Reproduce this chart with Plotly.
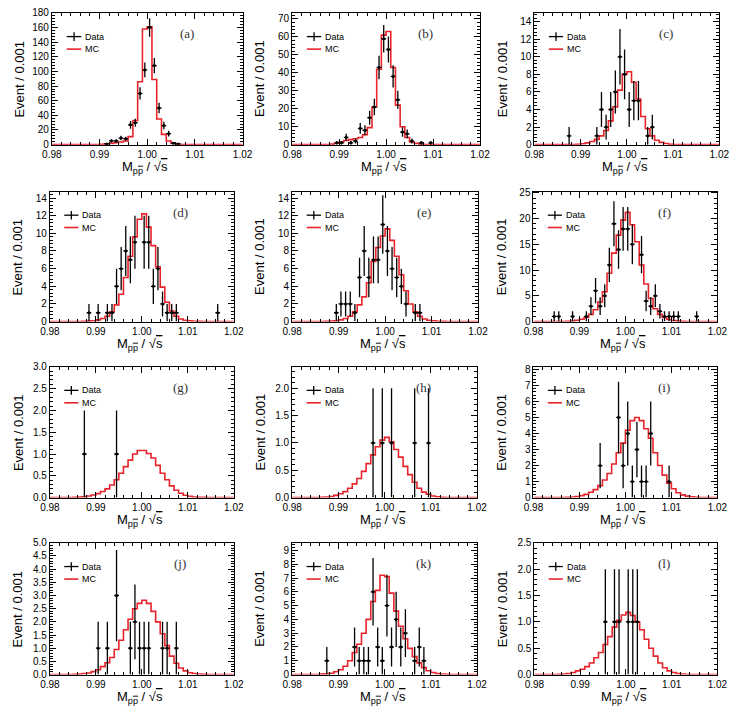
import numpy as np
import plotly.graph_objects as go

# ---------------- data ----------------
BIN_EDGES = np.round(np.arange(0.98, 1.0201, 0.001), 4)   # 40 bins of 0.001
X_TICKS = [0.98, 0.99, 1.00, 1.01, 1.02]
X_TICKTEXT = ["0.98", "0.99", "1.00", "1.01", "1.02"]
PANEL_LABELS = ["(a)", "(b)", "(c)", "(d)", "(e)", "(f)", "(g)", "(h)", "(i)", "(j)", "(k)", "(l)"]

MC_A = [0, 0, 0, 0, 0, 0, 0, 0, 0, 0.2, 0.5, 1, 1.5, 2.5, 3.5, 5, 11, 33, 86, 158,
        161, 89, 35, 14, 5, 1.5, 0.5, 0.2, 0, 0, 0, 0, 0, 0, 0, 0, 0, 0, 0, 0]
DATA_A_X = [0.9915, 0.9925, 0.9935, 0.9945, 0.9955, 0.9965, 0.9975, 0.9985, 0.9995, 1.0005,
            1.0015, 1.0025, 1.0035, 1.0045, 1.0055, 1.0065]
DATA_A_N = [1, 5, 5, 9, 8, 27, 30, 70, 102, 160, 108, 50, 26, 15, 2, 1]

MC_B = [0, 0, 0, 0, 0, 0, 0, 0, 0.3, 0.8, 1.5, 2.3, 2.8, 3.3, 4.0, 5.5, 9.5, 21, 42, 61,
        63, 43, 22, 10, 4, 1.5, 0.7, 0.3, 0.1, 0, 0, 0, 0, 0, 0, 0, 0, 0, 0, 0]
DATA_B_X = [0.9895, 0.9905, 0.9915, 0.9925, 0.9935, 0.9945, 0.9955, 0.9965, 0.9975, 0.9985,
            0.9995, 1.0005, 1.0015, 1.0025, 1.0035, 1.0045, 1.0055, 1.0075, 1.0095]
DATA_B_N = [1, 1, 4, 1, 2, 9, 8, 15, 21, 43, 59, 53, 38, 25, 7, 6, 2, 1, 1]

MC_C = [0, 0, 0, 0, 0, 0, 0, 0, 0.02, 0.05, 0.1, 0.2, 0.35, 0.6, 1.0, 1.6, 2.7, 4.3, 6.2, 8.0,
        8.3, 7.1, 5.2, 3.2, 1.8, 1.0, 0.5, 0.26, 0.12, 0.05, 0.02, 0, 0, 0, 0, 0, 0, 0, 0, 0]
DATA_C_X = [0.9875, 0.9935, 0.9945, 0.9955, 0.9965, 0.9975, 0.9985, 0.9995, 1.0005, 1.0015,
            1.0025, 1.0045, 1.0055]
DATA_C_N = [1, 1, 4, 2, 4, 6, 10, 8, 4, 5, 5, 1, 2]

MC_D = [0, 0, 0, 0, 0, 0, 0, 0.02, 0.05, 0.1, 0.2, 0.35, 0.6, 1.1, 1.9, 3.1, 5.0, 7.4, 9.6, 11.6,
        12.2, 10.7, 8.6, 6.2, 3.9, 2.2, 1.2, 0.6, 0.3, 0.15, 0.08, 0.04, 0.02, 0, 0, 0, 0, 0, 0, 0]
DATA_D_X = [0.9885, 0.9905, 0.9925, 0.9935, 0.9945, 0.9955, 0.9965, 0.9975, 0.9985, 1.0005,
            1.0015, 1.0025, 1.0035, 1.0045, 1.0055, 1.0065, 1.0075, 1.0165]
DATA_D_N = [1, 1, 1, 1, 4, 6, 8, 7, 9, 9, 9, 4, 6, 2, 1, 1, 1, 1]

MC_E = [0, 0, 0, 0, 0, 0, 0, 0.03, 0.05, 0.1, 0.2, 0.35, 0.6, 1.1, 1.9, 2.8, 4.4, 6.8, 8.4, 9.7,
        10.5, 9.2, 7.4, 5.3, 3.5, 2.0, 1.1, 0.6, 0.3, 0.15, 0.08, 0.04, 0.02, 0, 0, 0, 0, 0, 0, 0]
DATA_E_X = [0.9895, 0.9905, 0.9915, 0.9925, 0.9935, 0.9945, 0.9955, 0.9965, 0.9975, 0.9985,
            0.9995, 1.0005, 1.0015, 1.0025, 1.0035, 1.0045, 1.0065, 1.0075]
DATA_E_N = [1, 2, 2, 2, 1, 5, 8, 5, 7, 7, 11, 8, 6, 5, 4, 2, 1, 1]

MC_F = [0, 0, 0, 0, 0.01, 0.02, 0.03, 0.06, 0.12, 0.25, 0.45, 0.8, 1.4, 2.3, 3.8, 5.8, 9.4, 13.3, 16.8, 19.7,
        21.2, 18.8, 15.5, 11.0, 7.3, 4.5, 2.5, 1.4, 0.8, 0.4, 0.2, 0.1, 0.05, 0.02, 0, 0, 0, 0, 0, 0]
DATA_F_X = [0.9845, 0.9855, 0.9885, 0.9915, 0.9925, 0.9935, 0.9945, 0.9955, 0.9965, 0.9975,
            0.9985, 0.9995, 1.0005, 1.0015, 1.0035, 1.0045, 1.0055, 1.0065, 1.0075, 1.0085,
            1.0095, 1.0105, 1.0115, 1.0155]
DATA_F_N = [1, 1, 1, 1, 3, 6, 3, 5, 11, 19, 14, 18, 18, 15, 13, 4, 3, 5, 2, 1, 1, 1, 1, 1]

MC_G = [0, 0, 0, 0, 0.003, 0.005, 0.01, 0.02, 0.035, 0.06, 0.09, 0.14, 0.2, 0.29, 0.41, 0.56, 0.71, 0.86, 1.0, 1.08,
        1.08, 1.01, 0.91, 0.74, 0.56, 0.41, 0.27, 0.17, 0.1, 0.055, 0.03, 0.015, 0.008, 0.004, 0, 0, 0, 0, 0, 0]
DATA_G_X = [0.9875, 0.9945]
DATA_G_N = [1, 1]

MC_H = [0, 0, 0, 0, 0, 0.003, 0.005, 0.01, 0.02, 0.04, 0.07, 0.11, 0.17, 0.25, 0.35, 0.48, 0.62, 0.78, 0.93, 1.05,
        1.1, 1.02, 0.88, 0.74, 0.57, 0.42, 0.28, 0.17, 0.1, 0.06, 0.03, 0.015, 0.007, 0.003, 0, 0, 0, 0, 0, 0]
DATA_H_X = [0.9975, 0.9995, 1.0015, 1.0065, 1.0095]
DATA_H_N = [1, 1, 1, 1, 1]

MC_I = [0, 0, 0, 0, 0, 0, 0.01, 0.02, 0.04, 0.07, 0.12, 0.2, 0.33, 0.5, 0.75, 1.1, 1.5, 2.1, 2.8, 3.4,
        4.2, 4.8, 5.0, 4.8, 4.3, 3.7, 2.8, 2.0, 1.4, 0.9, 0.55, 0.3, 0.17, 0.09, 0.05, 0.02, 0.01, 0, 0, 0]
DATA_I_X = [0.9945, 0.9985, 0.9995, 1.0005, 1.0015, 1.0025, 1.0035, 1.0045, 1.0055, 1.0095]
DATA_I_N = [2, 5, 2, 4, 1, 3, 1, 1, 4, 1]

MC_J = [0, 0, 0, 0, 0, 0.01, 0.02, 0.04, 0.06, 0.11, 0.18, 0.3, 0.45, 0.65, 0.95, 1.3, 1.7, 2.1, 2.5, 2.7,
        2.82, 2.7, 2.4, 2.0, 1.55, 1.1, 0.7, 0.43, 0.25, 0.14, 0.07, 0.04, 0.02, 0.01, 0, 0, 0, 0, 0, 0]
DATA_J_X = [0.9905, 0.9925, 0.9945, 0.9975, 0.9985, 0.9995, 1.0005, 1.0015, 1.0045, 1.0055, 1.0075]
DATA_J_N = [1, 1, 3, 1, 2, 1, 1, 1, 1, 1, 1]

MC_K = [0, 0, 0, 0, 0, 0.01, 0.03, 0.06, 0.1, 0.2, 0.35, 0.6, 1.0, 1.6, 2.2, 3.0, 4.0, 5.3, 6.1, 7.2,
        7.1, 5.9, 4.6, 3.5, 2.6, 1.9, 1.3, 0.85, 0.5, 0.28, 0.15, 0.08, 0.04, 0.02, 0, 0, 0, 0, 0, 0]
DATA_K_X = [0.9875, 0.9935, 0.9945, 0.9955, 0.9965, 0.9975, 0.9985, 0.9995, 1.0005, 1.0015,
            1.0025, 1.0035, 1.0045, 1.0065, 1.0075, 1.0085]
DATA_K_N = [1, 2, 1, 1, 1, 6, 2, 1, 5, 2, 4, 2, 3, 1, 2, 1]

MC_L = [0, 0, 0, 0, 0, 0.005, 0.01, 0.02, 0.04, 0.07, 0.1, 0.15, 0.22, 0.32, 0.42, 0.57, 0.72, 0.9, 1.03, 1.13,
        1.18, 1.12, 1.0, 0.85, 0.67, 0.5, 0.35, 0.22, 0.13, 0.07, 0.04, 0.02, 0.01, 0, 0, 0, 0, 0, 0, 0]
DATA_L_X = [0.9955, 0.9975, 0.9985, 1.0005, 1.0015, 1.0025]
DATA_L_N = [1, 1, 1, 1, 1, 1]

MC_ALL = [MC_A, MC_B, MC_C, MC_D, MC_E, MC_F, MC_G, MC_H, MC_I, MC_J, MC_K, MC_L]
DATA_X_ALL = [DATA_A_X, DATA_B_X, DATA_C_X, DATA_D_X, DATA_E_X, DATA_F_X,
              DATA_G_X, DATA_H_X, DATA_I_X, DATA_J_X, DATA_K_X, DATA_L_X]
DATA_N_ALL = [DATA_A_N, DATA_B_N, DATA_C_N, DATA_D_N, DATA_E_N, DATA_F_N,
              DATA_G_N, DATA_H_N, DATA_I_N, DATA_J_N, DATA_K_N, DATA_L_N]
Y_MAX = [180, 73.4, 15, 14.7, 14.7, 25.2, 3.0, 2.39, 8.16, 5.0, 9.55, 2.5]
Y_DTICK = [20, 10, 2, 2, 2, 5, 0.5, 0.5, 1, 0.5, 1, 0.5]
Y_FMT = [".0f", ".0f", ".0f", ".0f", ".0f", ".0f", ".1f", ".1f", ".0f", ".1f", ".0f", ".1f"]

# ---------------- layout geometry (pixels: left, right, top, bottom) ----------------
W, H = 741, 714
PANELS = [
    (43, 239, 7, 141), (290, 483, 7, 141), (539, 729, 7, 141),
    (41, 230, 189, 321), (290, 481, 189, 321), (538, 727, 189, 321),
    (41, 230, 367, 500), (290, 480, 367, 500), (538, 727, 367, 500),
    (41, 230, 546, 680), (290, 480, 546, 680), (539, 727, 546, 680),
]

RED = "#e8232a"
FONT = "Liberation Sans, Arial, sans-serif"
OVER = "<span style='text-decoration:overline'>{}</span>"
X_TITLE = "M<sub>p" + OVER.format("p") + "</sub> / √" + OVER.format("s")

fig = go.Figure()
annotations = []
shapes = []
layout = {}

x_steps = list(BIN_EDGES)
for i in range(12):
    n = i + 1
    xa = "x" if n == 1 else f"x{n}"
    ya = "y" if n == 1 else f"y{n}"
    l, r, t, b = PANELS[i]

    mc = MC_ALL[i]
    fig.add_trace(go.Scatter(
        x=x_steps, y=list(mc) + [mc[-1]], mode="lines", line_shape="hv",
        line=dict(color=RED, width=1.6), xaxis=xa, yaxis=ya, showlegend=False,
        hoverinfo="skip", cliponaxis=False))
    fig.add_trace(go.Scatter(
        x=DATA_X_ALL[i], y=DATA_N_ALL[i], mode="markers",
        marker=dict(color="black", size=3),
        error_y=dict(type="sqrt", color="black", thickness=1.3, width=0),
        error_x=dict(type="constant", value=0.0005, color="black", thickness=1.3, width=0),
        xaxis=xa, yaxis=ya, showlegend=False))

    axis_common = dict(
        showline=True, linecolor="black", linewidth=1, mirror="ticks",
        ticks="inside", ticklen=6, tickwidth=1, tickcolor="black",
        showgrid=False, zeroline=False, ticklabeloverflow="allow",
        tickfont=dict(family=FONT, size=10, color="black"),
    )
    layout["xaxis" if n == 1 else f"xaxis{n}"] = dict(
        axis_common, domain=[l / W, r / W], anchor=ya, range=[0.98, 1.02],
        tickmode="array", tickvals=X_TICKS, ticktext=X_TICKTEXT,
        minor=dict(ticks="inside", ticklen=3, dtick=0.002, tick0=0.98, tickcolor="black", showgrid=False),
    )
    layout["yaxis" if n == 1 else f"yaxis{n}"] = dict(
        axis_common, domain=[1 - b / H, 1 - t / H], anchor=xa, range=[0, Y_MAX[i]],
        tick0=0, dtick=Y_DTICK[i], tickformat=Y_FMT[i],
        minor=dict(ticks="inside", ticklen=3, dtick=Y_DTICK[i] / 5, tick0=0, tickcolor="black", showgrid=False),
    )

    xd, yd = f"{xa} domain", f"{ya} domain"
    annotations.append(dict(
        text=X_TITLE, xref=xd, yref=yd, x=0.5, y=0, xshift=-2, yshift=-23,
        xanchor="center", yanchor="middle", showarrow=False,
        font=dict(family=FONT, size=13, color="black")))
    annotations.append(dict(
        text="Event / 0.001", xref=xd, yref=yd, x=0, y=0.5, xshift=-32,
        xanchor="center", yanchor="middle", textangle=-90, showarrow=False,
        font=dict(family=FONT, size=13, color="black")))
    annotations.append(dict(
        text=PANEL_LABELS[i], xref=xd, yref=yd, x=0.71, y=0.84,
        xanchor="center", yanchor="middle", showarrow=False,
        font=dict(family="Liberation Serif, serif", size=13, color="#333333")))
    annotations.append(dict(
        text="Data", xref=xd, yref=yd, x=0.165, y=0.82, xanchor="left", yanchor="middle",
        showarrow=False, font=dict(family=FONT, size=9, color="black")))
    annotations.append(dict(
        text="MC", xref=xd, yref=yd, x=0.165, y=0.725, xanchor="left", yanchor="middle",
        showarrow=False, font=dict(family=FONT, size=9, color="black")))
    shapes.append(dict(type="line", xref=xd, yref=yd, x0=0.078, x1=0.155, y0=0.82, y1=0.82,
                       line=dict(color="black", width=1.3)))
    shapes.append(dict(type="line", xref=xd, yref=yd, x0=0.1165, x1=0.1165, y0=0.787, y1=0.853,
                       line=dict(color="black", width=1.3)))
    shapes.append(dict(type="line", xref=xd, yref=yd, x0=0.078, x1=0.155, y0=0.725, y1=0.725,
                       line=dict(color=RED, width=1.6)))

fig.update_layout(
    width=W, height=H, margin=dict(l=0, r=0, t=0, b=0),
    paper_bgcolor="white", plot_bgcolor="white",
    annotations=annotations, shapes=shapes, **layout)

fig.write_html("out.html",
               config={"displayModeBar": False, "responsive": False},
               post_script="document.body.style.margin='0';document.body.style.overflow='hidden';")
